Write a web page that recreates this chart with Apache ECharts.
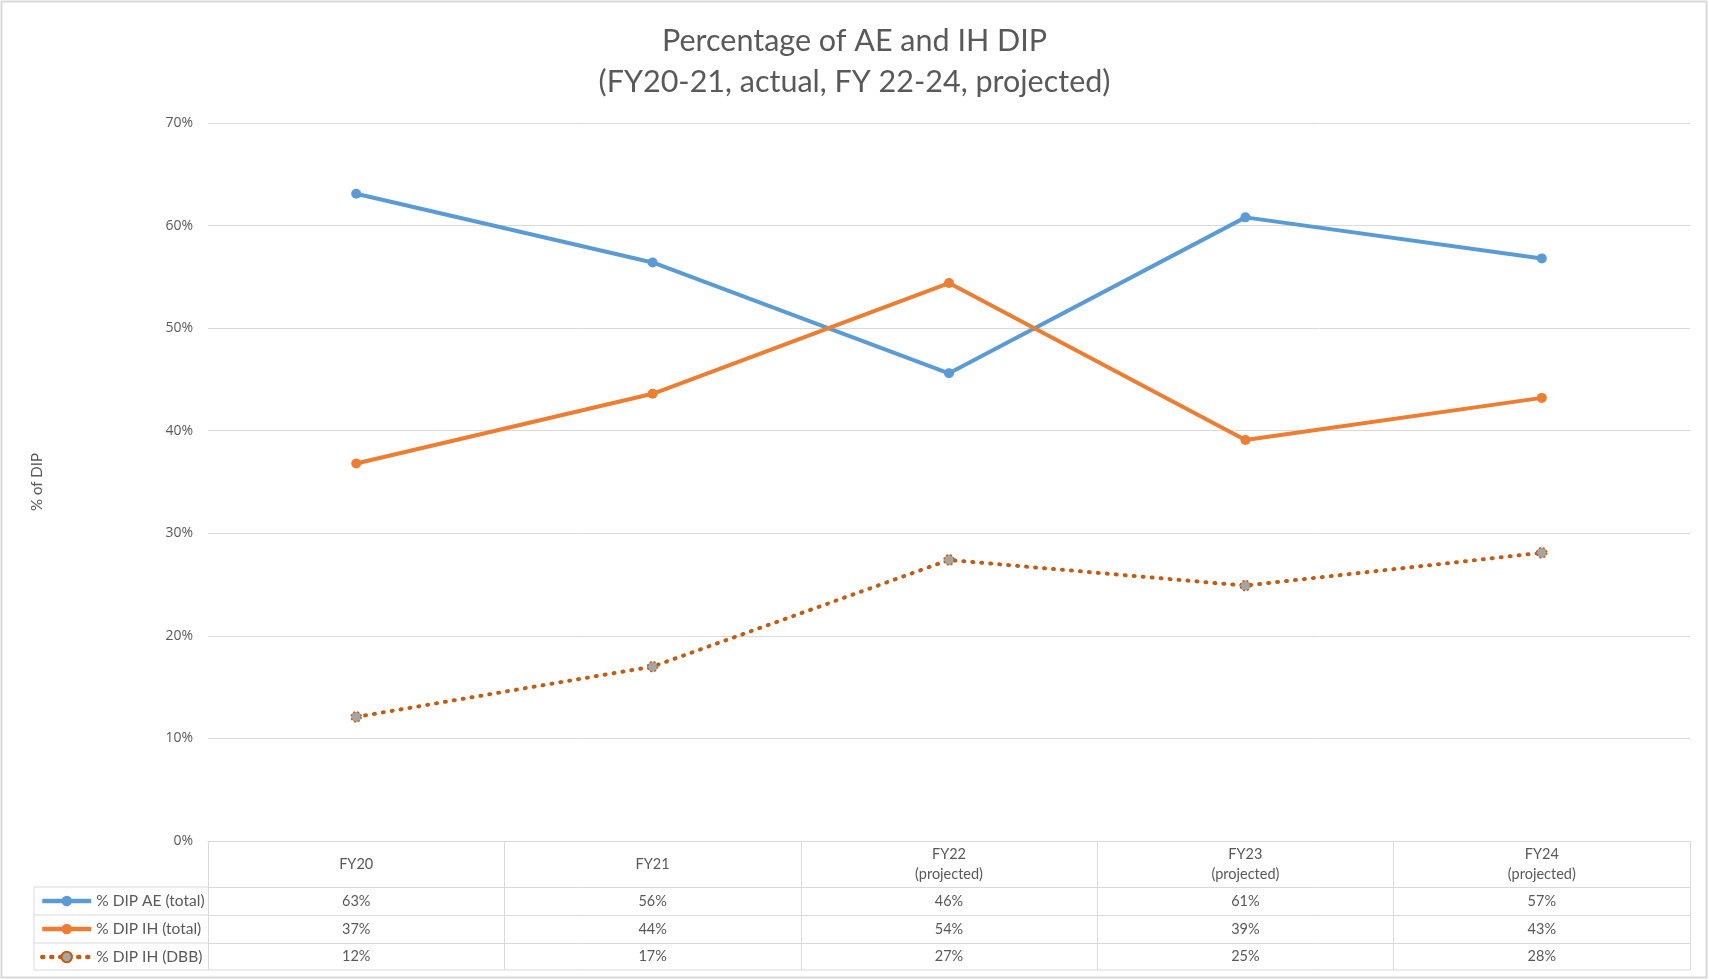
<!DOCTYPE html>
<html lang="en">
<head>
    <meta charset="UTF-8">
    <title>Percentage of AE and IH DIP</title>
    <script src="https://cdn.jsdelivr.net/npm/echarts@6/dist/echarts.min.js"></script>
    <style type="text/css">
        html, body { margin: 0; padding: 0; background: #fff; }
        #main { width: 1709px; height: 980px; }
    </style>
</head>
<body>
<div id="main"></div>
<script type="text/javascript">
    // categories (years) and values, in %
    var years = ['FY20', 'FY21', 'FY22\n(projected)', 'FY23\n(projected)', 'FY24\n(projected)'];
    var aeTotal = [63.1, 56.4, 45.6, 60.8, 56.8];
    var ihTotal = [36.8, 43.6, 54.4, 39.1, 43.2];
    var ihDbb = [12.1, 17.0, 27.4, 24.9, 28.1];
    var seriesNames = ['% DIP AE (total)', '% DIP IH (total)', '% DIP IH (DBB)'];
    var yTicks = [0, 70, 10]; // min, max, interval

    var textColor = '#595959';
    var lineColor = '#D9D9D9';
    var font = 'Lato';

    function pct(arr) {
        return arr.map(function (v) { return Math.round(v) + '%'; });
    }

    // one x axis per table row, stacked under the plot with offset
    function tableAxis(data, offset, rowH) {
        return {
            type: 'category',
            gridIndex: 0,
            position: 'bottom',
            offset: offset,
            data: data,
            boundaryGap: true,
            axisLine: {show: true, lineStyle: {color: lineColor, width: 1}},
            axisTick: {show: true, interval: 0, length: rowH, lineStyle: {color: lineColor, width: 1}},
            axisLabel: {
                interval: 0, margin: rowH / 2, verticalAlign: 'middle',
                color: textColor, fontFamily: font, fontSize: 14.5, lineHeight: 20
            },
            splitLine: {show: false}
        };
    }

    var chart = echarts.init(document.getElementById('main'));

    var option = {
        animation: false,
        backgroundColor: '#fff',
        title: {
            text: 'Percentage of AE and IH DIP\n(FY20-21, actual, FY 22-24, projected)',
            left: 'center',
            top: 16,
            textStyle: {
                color: textColor, fontFamily: font, fontWeight: 'normal',
                fontSize: 30.5, lineHeight: 41
            }
        },
        grid: {left: 208, right: 19, top: 123, bottom: 139},
        legend: {
            orient: 'vertical',
            left: 35,
            top: 888,
            padding: 5,
            itemWidth: 49,
            itemHeight: 13,
            itemGap: 12,
            selectedMode: false,
            data: seriesNames,
            lineStyle: {width: 4.5},
            textStyle: {color: textColor, fontFamily: font, fontSize: 15.5, lineHeight: 14}
        },
        xAxis: [
            tableAxis(years, 0, 46),
            tableAxis(pct(aeTotal), 46, 28),
            tableAxis(pct(ihTotal), 74, 28),
            tableAxis(pct(ihDbb), 102, 27)
        ],
        yAxis: {
            type: 'value',
            min: yTicks[0],
            max: yTicks[1],
            interval: yTicks[2],
            name: '% of DIP',
            nameLocation: 'middle',
            nameGap: 163,
            nameTextStyle: {color: textColor, fontFamily: font, fontSize: 15},
            axisLine: {show: false},
            axisTick: {show: false},
            axisLabel: {
                formatter: '{value}%', margin: 15,
                color: textColor, fontFamily: 'Open Sans', fontSize: 14
            },
            splitLine: {lineStyle: {color: lineColor, width: 1}}
        },
        series: [
            {
                name: seriesNames[0],
                type: 'line',
                xAxisIndex: 0,
                data: aeTotal,
                symbol: 'circle',
                symbolSize: 10,
                lineStyle: {color: '#5B9BD5', width: 4},
                itemStyle: {color: '#5B9BD5'}
            },
            {
                name: seriesNames[1],
                type: 'line',
                xAxisIndex: 0,
                data: ihTotal,
                symbol: 'circle',
                symbolSize: 10,
                lineStyle: {color: '#ED7D31', width: 4},
                itemStyle: {color: '#ED7D31'}
            },
            {
                name: seriesNames[2],
                type: 'line',
                xAxisIndex: 0,
                data: ihDbb,
                symbol: 'circle',
                symbolSize: 10,
                lineStyle: {color: '#C55A11', width: 4, type: [1, 8], cap: 'round'},
                itemStyle: {color: '#A5A5A5', borderColor: '#C55A11', borderWidth: 1.5, borderType: [2, 2]}
            }
        ]
    };
    chart.setOption(option);

    // legend column borders and outer frame, placed from the axis scale
    var x0 = chart.convertToPixel({xAxisIndex: 0}, 0) - (chart.convertToPixel({xAxisIndex: 0}, 1) - chart.convertToPixel({xAxisIndex: 0}, 0)) / 2;
    var yBase = chart.convertToPixel({yAxisIndex: 0}, 0);
    var rows = [46, 74, 102, 129];
    var lines = [];
    rows.forEach(function (r) {
        lines.push({type: 'line', shape: {x1: 34, y1: yBase + r, x2: x0, y2: yBase + r},
            style: {stroke: lineColor, lineWidth: 1}, silent: true});
    });
    lines.push({type: 'line', shape: {x1: 34, y1: yBase + 46, x2: 34, y2: yBase + 129},
        style: {stroke: lineColor, lineWidth: 1}, silent: true});
    lines.push({type: 'line', shape: {x1: x0, y1: yBase + 129, x2: 1690, y2: yBase + 129},
        style: {stroke: lineColor, lineWidth: 1}, silent: true});
    lines.push({type: 'rect', shape: {x: 1.5, y: 1.5, width: 1705, height: 976},
        style: {fill: null, stroke: lineColor, lineWidth: 2}, silent: true, z: -1});
    chart.setOption({graphic: lines});
</script>
</body>
</html>
